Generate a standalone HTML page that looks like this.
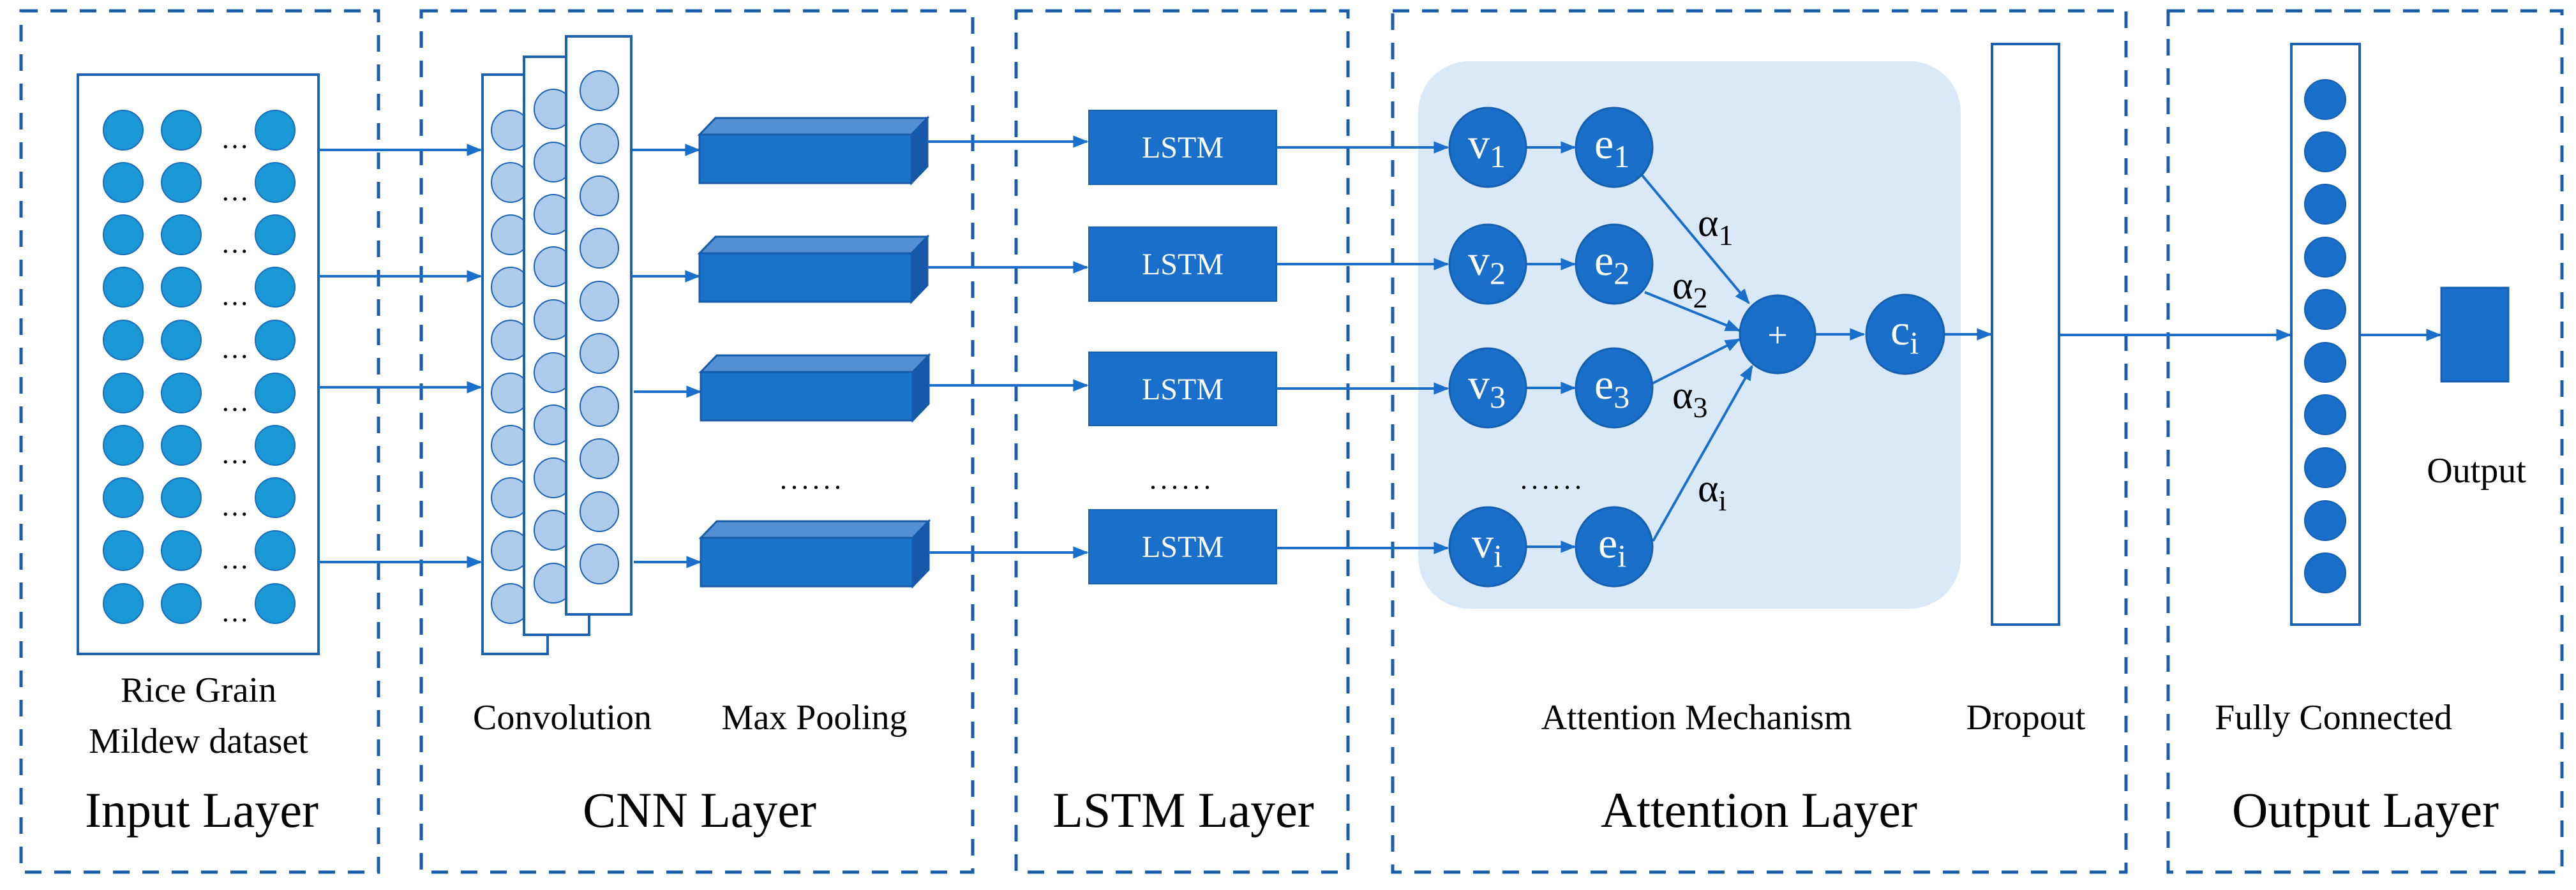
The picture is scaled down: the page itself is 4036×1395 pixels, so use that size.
<!DOCTYPE html>
<html><head><meta charset="utf-8"><style>
html,body{margin:0;padding:0;background:#fff;}
svg{display:block;}
svg text{font-family:"Liberation Serif","DejaVu Serif",serif;}
</style></head><body>
<svg width="4036" height="1395" viewBox="0 0 4036 1395" xmlns="http://www.w3.org/2000/svg" font-family="'Liberation Serif', 'DejaVu Serif', serif">
<defs>
<marker id="ar" viewBox="0 0 10 10" refX="9" refY="5" markerWidth="6.5" markerHeight="6" orient="auto" markerUnits="strokeWidth">
<path d="M0,1 L10,5 L0,9 z" fill="#1a6fca"/></marker>
</defs>
<g fill="none" stroke="#1b5ea8" stroke-width="5" stroke-dasharray="26,20">
<rect x="33" y="17" width="560" height="1350"/>
<rect x="660" y="17" width="864" height="1350"/>
<rect x="1592" y="17" width="520" height="1350"/>
<rect x="2182" y="17" width="1149" height="1350"/>
<rect x="3397" y="17" width="617" height="1350"/>
</g>
<rect x="2222" y="96" width="850" height="858" rx="80" fill="#dae9f7"/>
<rect x="122" y="117" width="377" height="908" fill="#fff" stroke="#1c62b4" stroke-width="4"/>
<g fill="#1a98d6" stroke="#1a6db8" stroke-width="2">
<g id="row"><ellipse cx="193" cy="204" rx="31" ry="31"/><ellipse cx="284" cy="204" rx="31" ry="31"/><ellipse cx="431" cy="204" rx="31" ry="31"/></g>
<use href="#row" y="82"/><use href="#row" y="164"/><use href="#row" y="246"/><use href="#row" y="329"/>
<use href="#row" y="412"/><use href="#row" y="494"/><use href="#row" y="576"/><use href="#row" y="659"/><use href="#row" y="742"/>
</g>
<g font-size="44" fill="#000" text-anchor="middle">
<text x="368" y="232">…</text><text x="368" y="314">…</text><text x="368" y="396">…</text><text x="368" y="478">…</text><text x="368" y="561">…</text>
<text x="368" y="644">…</text><text x="368" y="726">…</text><text x="368" y="808">…</text><text x="368" y="891">…</text><text x="368" y="974">…</text>
</g>
<g stroke="#1a6fca" stroke-width="4" fill="none">
<line x1="499" y1="235" x2="753" y2="235" marker-end="url(#ar)"/>
<line x1="499" y1="433" x2="753" y2="433" marker-end="url(#ar)"/>
<line x1="499" y1="607" x2="753" y2="607" marker-end="url(#ar)"/>
<line x1="499" y1="881" x2="753" y2="881" marker-end="url(#ar)"/>
</g>
<g stroke="#1c62b4" stroke-width="4">
<rect x="756" y="117" width="102" height="908" fill="#fff"/>
<g fill="#aecbeb" stroke-width="2">
<ellipse cx="800" cy="204" rx="30" ry="31"/><ellipse cx="800" cy="286" rx="30" ry="31"/><ellipse cx="800" cy="368" rx="30" ry="31"/><ellipse cx="800" cy="450" rx="30" ry="31"/><ellipse cx="800" cy="533" rx="30" ry="31"/><ellipse cx="800" cy="616" rx="30" ry="31"/><ellipse cx="800" cy="698" rx="30" ry="31"/><ellipse cx="800" cy="780" rx="30" ry="31"/><ellipse cx="800" cy="863" rx="30" ry="31"/><ellipse cx="800" cy="946" rx="30" ry="31"/>
</g>
<rect x="821" y="89" width="102" height="906" fill="#fff"/>
<g fill="#aecbeb" stroke-width="2">
<ellipse cx="867" cy="171" rx="30" ry="31"/><ellipse cx="867" cy="254" rx="30" ry="31"/><ellipse cx="867" cy="336" rx="30" ry="31"/><ellipse cx="867" cy="418" rx="30" ry="31"/><ellipse cx="867" cy="501" rx="30" ry="31"/><ellipse cx="867" cy="584" rx="30" ry="31"/><ellipse cx="867" cy="666" rx="30" ry="31"/><ellipse cx="867" cy="749" rx="30" ry="31"/><ellipse cx="867" cy="831" rx="30" ry="31"/><ellipse cx="867" cy="914" rx="30" ry="31"/>
</g>
<rect x="887" y="57" width="102" height="906" fill="#fff"/>
<g fill="#aecbeb" stroke-width="2">
<ellipse cx="939" cy="142" rx="30" ry="31"/><ellipse cx="939" cy="225" rx="30" ry="31"/><ellipse cx="939" cy="307" rx="30" ry="31"/><ellipse cx="939" cy="389" rx="30" ry="31"/><ellipse cx="939" cy="472" rx="30" ry="31"/><ellipse cx="939" cy="554" rx="30" ry="31"/><ellipse cx="939" cy="637" rx="30" ry="31"/><ellipse cx="939" cy="719" rx="30" ry="31"/><ellipse cx="939" cy="802" rx="30" ry="31"/><ellipse cx="939" cy="884" rx="30" ry="31"/>
</g>
</g>
<g stroke="#1a6fca" stroke-width="4" fill="none">
<line x1="991" y1="235" x2="1095" y2="235" marker-end="url(#ar)"/>
<line x1="991" y1="433" x2="1095" y2="433" marker-end="url(#ar)"/>
<line x1="993" y1="614" x2="1097" y2="614" marker-end="url(#ar)"/>
<line x1="993" y1="881" x2="1097" y2="881" marker-end="url(#ar)"/>
</g>
<g stroke="#165ba8" stroke-width="3">
<g id="pb">
<polygon points="1096,211 1121,185 1453,185 1428,211" fill="#548fd3"/>
<polygon points="1428,211 1453,185 1453,261 1428,287" fill="#1559a8"/>
<rect x="1096" y="211" width="332" height="76" fill="#1a73cb"/>
</g>
<use href="#pb" y="186"/>
<use href="#pb" x="2" y="372"/>
<use href="#pb" x="2" y="632"/>
</g>
<g stroke="#1a6fca" stroke-width="4" fill="none">
<line x1="1453" y1="222" x2="1703" y2="222" marker-end="url(#ar)"/>
<line x1="1453" y1="419" x2="1703" y2="419" marker-end="url(#ar)"/>
<line x1="1455" y1="604" x2="1703" y2="604" marker-end="url(#ar)"/>
<line x1="1455" y1="866" x2="1703" y2="866" marker-end="url(#ar)"/>
</g>
<g font-size="44" fill="#000" text-anchor="middle" letter-spacing="6">
<text x="1273" y="766">......</text>
<text x="1852" y="766">......</text>
<text x="2433" y="766">......</text>
</g>
<g fill="#1a6fca" stroke="#1862b6" stroke-width="2">
<rect x="1706" y="173" width="294" height="116"/>
<rect x="1706" y="356" width="294" height="116"/>
<rect x="1706" y="552" width="294" height="115"/>
<rect x="1706" y="799" width="294" height="116"/>
</g>
<g font-size="48" fill="#fff" text-anchor="middle">
<text x="1853" y="247">LSTM</text><text x="1853" y="430">LSTM</text><text x="1853" y="626">LSTM</text><text x="1853" y="873">LSTM</text>
</g>
<g stroke="#1a6fca" stroke-width="4" fill="none">
<line x1="2000" y1="231" x2="2268" y2="231" marker-end="url(#ar)"/>
<line x1="2000" y1="414" x2="2268" y2="414" marker-end="url(#ar)"/>
<line x1="2000" y1="609" x2="2268" y2="609" marker-end="url(#ar)"/>
<line x1="2000" y1="859" x2="2268" y2="859" marker-end="url(#ar)"/>
<line x1="2391" y1="231" x2="2467" y2="231" marker-end="url(#ar)"/>
<line x1="2391" y1="414" x2="2467" y2="414" marker-end="url(#ar)"/>
<line x1="2391" y1="608" x2="2467" y2="608" marker-end="url(#ar)"/>
<line x1="2391" y1="857" x2="2467" y2="857" marker-end="url(#ar)"/>
<line x1="2573" y1="275" x2="2740" y2="475" marker-end="url(#ar)"/>
<line x1="2577" y1="458" x2="2725" y2="518" marker-end="url(#ar)"/>
<line x1="2583" y1="604" x2="2725" y2="532" marker-end="url(#ar)"/>
<line x1="2590" y1="848" x2="2745" y2="574" marker-end="url(#ar)"/>
<line x1="2845" y1="524" x2="2920" y2="524" marker-end="url(#ar)"/>
<line x1="3047" y1="524" x2="3119" y2="524" marker-end="url(#ar)"/>
<line x1="3226" y1="525" x2="3588" y2="525" marker-end="url(#ar)"/>
<line x1="3697" y1="525" x2="3823" y2="525" marker-end="url(#ar)"/>
</g>
<g fill="#1a6fca" stroke="#1560b0" stroke-width="3">
<ellipse cx="2331" cy="231" rx="60" ry="62"/><ellipse cx="2331" cy="414" rx="60" ry="62"/><ellipse cx="2331" cy="608" rx="60" ry="62"/><ellipse cx="2331" cy="857" rx="60" ry="62"/>
<ellipse cx="2529" cy="231" rx="60" ry="62"/><ellipse cx="2529" cy="414" rx="60" ry="62"/><ellipse cx="2529" cy="608" rx="60" ry="62"/><ellipse cx="2529" cy="857" rx="60" ry="62"/>
<ellipse cx="2785" cy="524" rx="59" ry="61"/>
<ellipse cx="2985" cy="524" rx="61" ry="62"/>
</g>
<g font-size="68" fill="#fff">
<text x="2300" y="248">v<tspan font-size="50" dy="14">1</tspan></text>
<text x="2300" y="431">v<tspan font-size="50" dy="14">2</tspan></text>
<text x="2300" y="625">v<tspan font-size="50" dy="14">3</tspan></text>
<text x="2306" y="874">v<tspan font-size="50" dy="14">i</tspan></text>
<text x="2498" y="248">e<tspan font-size="50" dy="14">1</tspan></text>
<text x="2498" y="431">e<tspan font-size="50" dy="14">2</tspan></text>
<text x="2498" y="625">e<tspan font-size="50" dy="14">3</tspan></text>
<text x="2504" y="874">e<tspan font-size="50" dy="14">i</tspan></text>
<text x="2962" y="540">c<tspan font-size="50" dy="14">i</tspan></text>
<text x="2785" y="544" text-anchor="middle" font-size="56">+</text>
</g>
<g font-size="62" fill="#000">
<text x="2660" y="370">α<tspan font-size="46" dy="14">1</tspan></text>
<text x="2620" y="468">α<tspan font-size="46" dy="14">2</tspan></text>
<text x="2620" y="640">α<tspan font-size="46" dy="14">3</tspan></text>
<text x="2660" y="786">α<tspan font-size="46" dy="14">i</tspan></text>
</g>
<rect x="3121" y="69" width="105" height="910" fill="#fff" stroke="#1c62b4" stroke-width="4"/>
<rect x="3590" y="69" width="107" height="910" fill="#fff" stroke="#1c62b4" stroke-width="4"/>
<g fill="#1a6fca" stroke="#1560b0" stroke-width="2">
<ellipse cx="3643" cy="156" rx="32" ry="31"/><ellipse cx="3643" cy="238" rx="32" ry="31"/><ellipse cx="3643" cy="320" rx="32" ry="31"/><ellipse cx="3643" cy="403" rx="32" ry="31"/><ellipse cx="3643" cy="485" rx="32" ry="31"/><ellipse cx="3643" cy="568" rx="32" ry="31"/><ellipse cx="3643" cy="650" rx="32" ry="31"/><ellipse cx="3643" cy="733" rx="32" ry="31"/><ellipse cx="3643" cy="816" rx="32" ry="31"/><ellipse cx="3643" cy="898" rx="32" ry="31"/>
</g>
<rect x="3825" y="451" width="105" height="147" fill="#1a6fca" stroke="#1560b0" stroke-width="3"/>
<g font-size="56" fill="#000" text-anchor="middle">
<text x="311" y="1100">Rice Grain</text>
<text x="311" y="1180">Mildew dataset</text>
<text x="881" y="1143">Convolution</text>
<text x="1276" y="1143">Max Pooling</text>
<text x="2658" y="1143">Attention Mechanism</text>
<text x="3174" y="1143">Dropout</text>
<text x="3656" y="1143">Fully Connected</text>
<text x="3880" y="756">Output</text>
</g>
<g font-size="78" fill="#000" text-anchor="middle">
<text x="316" y="1296">Input Layer</text>
<text x="1096" y="1296">CNN Layer</text>
<text x="1854" y="1296">LSTM Layer</text>
<text x="2756" y="1296">Attention Layer</text>
<text x="3706" y="1296">Output Layer</text>
</g>
</svg>
</body></html>
